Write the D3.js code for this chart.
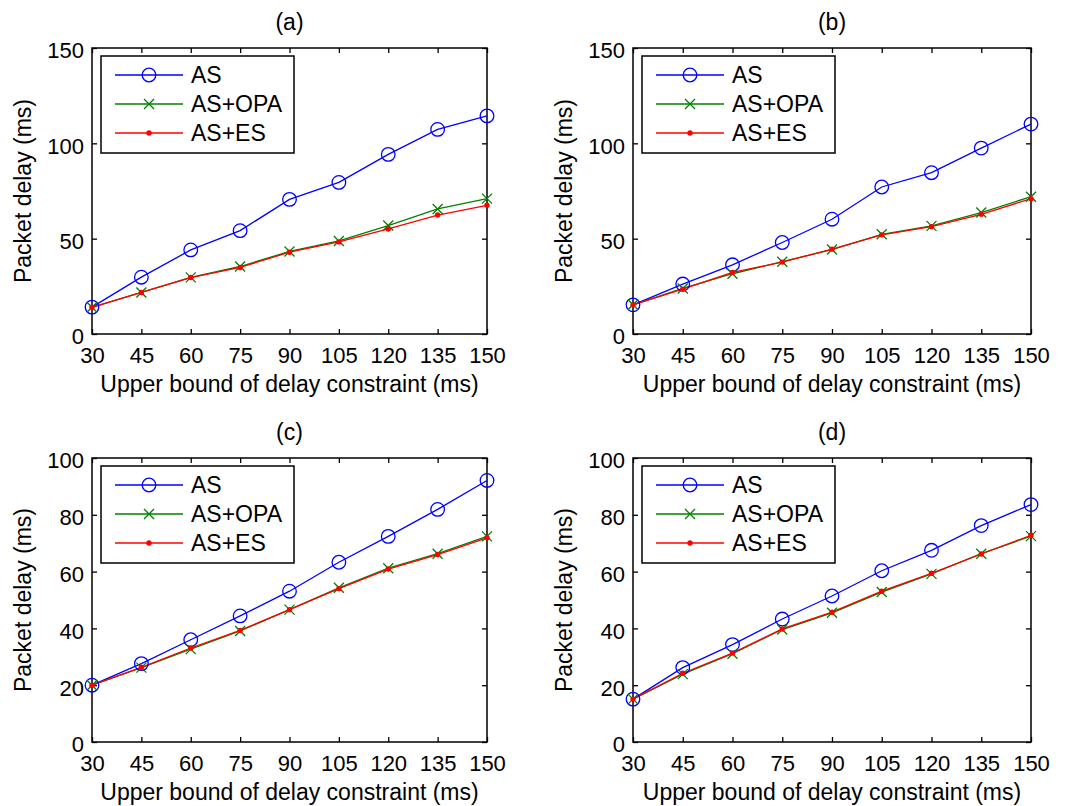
<!DOCTYPE html>
<html>
<head>
<meta charset="utf-8">
<script src="https://cdn.jsdelivr.net/npm/d3@7"></script>
<style>
  body { margin: 0; background: #fff; }
  text { font-family: "Liberation Sans", Arial, Helvetica, sans-serif; fill: #000; }
</style>
</head>
<body>
<div id="chart"></div>
<script>
var xValues = [30, 45, 60, 75, 90, 105, 120, 135, 150];
var seriesNames = ["AS", "AS+OPA", "AS+ES"];
var panelTitles = ["(a)", "(b)", "(c)", "(d)"];
var yTicksTop = [0, 50, 100, 150];
var yTicksBottom = [0, 20, 40, 60, 80, 100];

// panel (a)
var asA  = [14.1, 29.8, 44.1, 54.2, 70.6, 79.5, 94.2, 107.3, 114.4];
var opaA = [14.0, 21.8, 29.7, 35.4, 43.3, 48.8, 56.9, 65.6, 71.0];
var esA  = [14.0, 21.8, 29.6, 34.9, 42.9, 48.3, 55.1, 62.4, 67.5];
// panel (b)
var asB  = [15.3, 26.2, 36.3, 48.0, 60.2, 77.1, 84.6, 97.5, 110.1];
var opaB = [15.3, 23.9, 31.6, 37.9, 44.3, 52.3, 56.7, 63.7, 72.0];
var esB  = [15.3, 23.5, 32.3, 37.7, 44.5, 52.0, 56.3, 62.8, 71.0];
// panel (c)
var asC  = [20.0, 27.6, 36.0, 44.4, 53.1, 63.3, 72.4, 81.9, 92.1];
var opaC = [20.0, 26.2, 32.7, 39.1, 46.6, 54.3, 61.2, 66.3, 72.4];
var esC  = [20.0, 26.3, 33.1, 39.3, 46.6, 54.0, 60.9, 66.0, 71.9];
// panel (d)
var asD  = [15.1, 26.2, 34.3, 43.3, 51.4, 60.3, 67.5, 76.2, 83.6];
var opaD = [15.1, 23.9, 31.1, 39.6, 45.5, 52.8, 59.2, 66.3, 72.5];
var esD  = [15.1, 24.2, 31.3, 39.8, 45.7, 53.1, 59.4, 66.2, 72.8];

var colors = ["#0000ff", "#008000", "#ff0000"];
var fontSize = 23;
var tickFontSize = 22;
var lw = 1.3;

var panels = [
  {title: panelTitles[0], series: [asA, opaA, esA], yMax: 150, yTicks: yTicksTop, box: [92, 487, 48, 334]},
  {title: panelTitles[1], series: [asB, opaB, esB], yMax: 150, yTicks: yTicksTop, box: [633, 1031, 48, 334]},
  {title: panelTitles[2], series: [asC, opaC, esC], yMax: 100, yTicks: yTicksBottom, box: [92, 487, 458, 742]},
  {title: panelTitles[3], series: [asD, opaD, esD], yMax: 100, yTicks: yTicksBottom, box: [633, 1031, 458, 742]}
];

var svg = d3.select("#chart").append("svg")
  .attr("width", 1071)
  .attr("height", 806);

function drawMarker(g, type, x, y, color) {
  if (type == 0) {
    g.append("circle").attr("cx", x).attr("cy", y).attr("r", 6.8)
      .attr("fill", "none").attr("stroke", color).attr("stroke-width", lw);
  } else if (type == 1) {
    var s = 5;
    g.append("path")
      .attr("d", "M" + (x - s) + "," + (y - s) + "L" + (x + s) + "," + (y + s) +
                 "M" + (x - s) + "," + (y + s) + "L" + (x + s) + "," + (y - s))
      .attr("stroke", color).attr("stroke-width", lw).attr("fill", "none");
  } else {
    g.append("circle").attr("cx", x).attr("cy", y).attr("r", 2.7).attr("fill", color);
  }
}

panels.forEach(function(p) {
  var x0 = p.box[0], x1 = p.box[1], y0 = p.box[2], y1 = p.box[3];
  var x = d3.scaleLinear().domain([30, 150]).range([x0, x1]);
  var y = d3.scaleLinear().domain([0, p.yMax]).range([y1, y0]);
  var g = svg.append("g");

  // axes with inward ticks
  g.append("g").attr("transform", "translate(0," + y1 + ")")
    .call(d3.axisBottom(x).tickValues(xValues).tickSizeInner(-5).tickSizeOuter(0).tickPadding(13))
    .call(a => a.select(".domain").remove())
    .selectAll("text").attr("font-size", tickFontSize);
  g.append("g").attr("transform", "translate(0," + y0 + ")")
    .call(d3.axisTop(x).tickValues(xValues).tickSizeInner(-5).tickSizeOuter(0).tickFormat(""))
    .call(a => a.select(".domain").remove());
  g.append("g").attr("transform", "translate(" + x0 + ",0)")
    .call(d3.axisLeft(y).tickValues(p.yTicks).tickSizeInner(-5).tickSizeOuter(0).tickPadding(8))
    .call(a => a.select(".domain").remove())
    .selectAll("text").attr("font-size", tickFontSize).attr("dy", "0.45em");
  g.append("g").attr("transform", "translate(" + x1 + ",0)")
    .call(d3.axisRight(y).tickValues(p.yTicks).tickSizeInner(-5).tickSizeOuter(0).tickFormat(""))
    .call(a => a.select(".domain").remove());
  g.selectAll(".tick line").attr("stroke", "#000").attr("stroke-width", lw);
  g.selectAll(".tick text").attr("font-family", "Liberation Sans, Arial, sans-serif").attr("fill", "#000");

  g.append("rect").attr("x", x0).attr("y", y0).attr("width", x1 - x0).attr("height", y1 - y0)
    .attr("fill", "none").attr("stroke", "#000").attr("stroke-width", 1.5);

  // lines and markers
  p.series.forEach(function(vals, si) {
    var line = d3.line().x((d, i) => x(xValues[i])).y(d => y(d));
    g.append("path").datum(vals).attr("d", line)
      .attr("fill", "none").attr("stroke", colors[si]).attr("stroke-width", lw);
  });
  p.series.forEach(function(vals, si) {
    vals.forEach(function(v, i) { drawMarker(g, si, x(xValues[i]), y(v), colors[si]); });
  });

  // titles
  var cx = (x0 + x1) / 2;
  g.append("text").attr("x", cx).attr("y", y0 - 18).attr("text-anchor", "middle")
    .attr("font-size", fontSize).text(p.title);
  g.append("text").attr("x", cx).attr("y", y1 + 58).attr("text-anchor", "middle")
    .attr("font-size", fontSize).text("Upper bound of delay constraint (ms)");
  g.append("text").attr("transform", "translate(" + (x0 - 61) + "," + ((y0 + y1) / 2) + ") rotate(-90)")
    .attr("text-anchor", "middle").attr("font-size", fontSize).text("Packet delay (ms)");

  // legend
  var lx = x0 + 9, ly = y0 + 8;
  var lg = g.append("g");
  lg.append("rect").attr("x", lx).attr("y", ly).attr("width", 193).attr("height", 97)
    .attr("fill", "#fff").attr("stroke", "#000").attr("stroke-width", 1.5);
  seriesNames.forEach(function(name, si) {
    var ry = ly + 19 + si * 29;
    lg.append("line").attr("x1", lx + 14).attr("x2", lx + 82).attr("y1", ry).attr("y2", ry)
      .attr("stroke", colors[si]).attr("stroke-width", lw);
    drawMarker(lg, si, lx + 48, ry, colors[si]);
    lg.append("text").attr("x", lx + 90).attr("y", ry).attr("dy", "0.36em")
      .attr("font-size", fontSize).text(name);
  });
});
</script>
</body>
</html>
